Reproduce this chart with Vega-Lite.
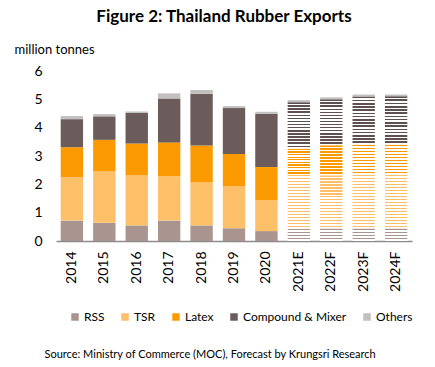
{
  "$schema": "https://vega.github.io/schema/vega-lite/v6.json",
  "width": 356,
  "height": 170,
  "autosize": "none",
  "padding": {"left": 56, "top": 71, "right": 23, "bottom": 126},
  "background": "white",
  "title": {"text": "Figure 2: Thailand Rubber Exports", "fontSize": 17, "font": "Lato", "fontWeight": "bold", "color": "#000", "anchor": "middle", "dx": -10, "offset": 17},
  "config": {"view": {"stroke": null}, "font": "Lato"},
  "data": {"values": [
    {"year":"2014","cat":"RSS","v":0.72,"type":"A"},{"year":"2014","cat":"TSR","v":1.53,"type":"A"},{"year":"2014","cat":"Latex","v":1.06,"type":"A"},{"year":"2014","cat":"Compound & Mixer","v":0.99,"type":"A"},{"year":"2014","cat":"Others","v":0.11,"type":"A"},
    {"year":"2015","cat":"RSS","v":0.64,"type":"A"},{"year":"2015","cat":"TSR","v":1.83,"type":"A"},{"year":"2015","cat":"Latex","v":1.10,"type":"A"},{"year":"2015","cat":"Compound & Mixer","v":0.83,"type":"A"},{"year":"2015","cat":"Others","v":0.08,"type":"A"},
    {"year":"2016","cat":"RSS","v":0.55,"type":"A"},{"year":"2016","cat":"TSR","v":1.77,"type":"A"},{"year":"2016","cat":"Latex","v":1.12,"type":"A"},{"year":"2016","cat":"Compound & Mixer","v":1.08,"type":"A"},{"year":"2016","cat":"Others","v":0.05,"type":"A"},
    {"year":"2017","cat":"RSS","v":0.72,"type":"A"},{"year":"2017","cat":"TSR","v":1.56,"type":"A"},{"year":"2017","cat":"Latex","v":1.20,"type":"A"},{"year":"2017","cat":"Compound & Mixer","v":1.55,"type":"A"},{"year":"2017","cat":"Others","v":0.18,"type":"A"},
    {"year":"2018","cat":"RSS","v":0.55,"type":"A"},{"year":"2018","cat":"TSR","v":1.53,"type":"A"},{"year":"2018","cat":"Latex","v":1.29,"type":"A"},{"year":"2018","cat":"Compound & Mixer","v":1.83,"type":"A"},{"year":"2018","cat":"Others","v":0.13,"type":"A"},
    {"year":"2019","cat":"RSS","v":0.45,"type":"A"},{"year":"2019","cat":"TSR","v":1.49,"type":"A"},{"year":"2019","cat":"Latex","v":1.13,"type":"A"},{"year":"2019","cat":"Compound & Mixer","v":1.62,"type":"A"},{"year":"2019","cat":"Others","v":0.07,"type":"A"},
    {"year":"2020","cat":"RSS","v":0.35,"type":"A"},{"year":"2020","cat":"TSR","v":1.09,"type":"A"},{"year":"2020","cat":"Latex","v":1.17,"type":"A"},{"year":"2020","cat":"Compound & Mixer","v":1.88,"type":"A"},{"year":"2020","cat":"Others","v":0.07,"type":"A"},
    {"year":"2021E","cat":"RSS","v":0.43,"type":"F"},{"year":"2021E","cat":"TSR","v":1.90,"type":"F"},{"year":"2021E","cat":"Latex","v":0.93,"type":"F"},{"year":"2021E","cat":"Compound & Mixer","v":1.64,"type":"F"},{"year":"2021E","cat":"Others","v":0.07,"type":"F"},
    {"year":"2022F","cat":"RSS","v":0.44,"type":"F"},{"year":"2022F","cat":"TSR","v":1.88,"type":"F"},{"year":"2022F","cat":"Latex","v":1.06,"type":"F"},{"year":"2022F","cat":"Compound & Mixer","v":1.62,"type":"F"},{"year":"2022F","cat":"Others","v":0.07,"type":"F"},
    {"year":"2023F","cat":"RSS","v":0.44,"type":"F"},{"year":"2023F","cat":"TSR","v":1.90,"type":"F"},{"year":"2023F","cat":"Latex","v":1.06,"type":"F"},{"year":"2023F","cat":"Compound & Mixer","v":1.70,"type":"F"},{"year":"2023F","cat":"Others","v":0.07,"type":"F"},
    {"year":"2024F","cat":"RSS","v":0.44,"type":"F"},{"year":"2024F","cat":"TSR","v":1.90,"type":"F"},{"year":"2024F","cat":"Latex","v":1.06,"type":"F"},{"year":"2024F","cat":"Compound & Mixer","v":1.71,"type":"F"},{"year":"2024F","cat":"Others","v":0.06,"type":"F"}
  ]},
  "transform": [
    {"calculate": "indexof(['RSS','TSR','Latex','Compound & Mixer','Others'], datum.cat)", "as": "stackIdx"}
  ],
  "mark": {"type": "bar"},
  "encoding": {
    "x": {"field": "year", "type": "nominal", "sort": null,
      "scale": {"paddingInner": 0.31, "paddingOuter": 0.145},
      "axis": {"title": "Source:  Ministry of Commerce (MOC),  Forecast by Krungsri Research", "titleFontSize": 11, "titleFontWeight": "normal", "titleColor": "#000", "titleAlign": "left", "titleX": -12, "titleY": 113, "titleBaseline": "middle",
        "labelAngle": -90, "labelFontSize": 14, "labelColor": "#000", "labelPadding": 10, "ticks": false, "domainColor": "#8c8c8c", "domainWidth": 1.5, "grid": false}},
    "y": {"field": "v", "type": "quantitative", "stack": "zero",
      "scale": {"domain": [0, 6], "nice": false},
      "axis": {"values": [0,1,2,3,4,5,6], "domain": false, "ticks": false, "grid": false, "labelFontSize": 14, "labelColor": "#000", "labelPadding": 14,
        "title": "million tonnes", "titleAngle": 0, "titleAlign": "left", "titleBaseline": "middle", "titleX": -42, "titleY": -22, "titleFontSize": 13, "titleFontWeight": "normal", "titleColor": "#000"}},
    "order": {"field": "stackIdx", "type": "quantitative", "sort": "ascending"},
    "color": {
      "condition": [
        {"test": "datum.type === 'F' && datum.cat === 'RSS'", "value": {"gradient": "linear", "x1": 0, "y1": 0, "x2": 0, "y2": 1, "stops": [
          {"offset":0,"color":"#a99490"},{"offset":0.125,"color":"#a99490"},{"offset":0.125,"color":"#fff"},{"offset":0.25,"color":"#fff"},
          {"offset":0.25,"color":"#a99490"},{"offset":0.375,"color":"#a99490"},{"offset":0.375,"color":"#fff"},{"offset":0.5,"color":"#fff"},
          {"offset":0.5,"color":"#a99490"},{"offset":0.625,"color":"#a99490"},{"offset":0.625,"color":"#fff"},{"offset":0.75,"color":"#fff"},
          {"offset":0.75,"color":"#a99490"},{"offset":0.875,"color":"#a99490"},{"offset":0.875,"color":"#fff"},{"offset":1,"color":"#fff"}]}},
        {"test": "datum.type === 'F' && datum.cat === 'TSR'", "value": {"gradient": "linear", "x1": 0, "y1": 0, "x2": 0, "y2": 1, "stops": [
          {"offset":0,"color":"#fdc068"},{"offset":0.0278,"color":"#fdc068"},{"offset":0.0278,"color":"#fff"},{"offset":0.0556,"color":"#fff"},
          {"offset":0.0556,"color":"#fdc068"},{"offset":0.0833,"color":"#fdc068"},{"offset":0.0833,"color":"#fff"},{"offset":0.1111,"color":"#fff"},
          {"offset":0.1111,"color":"#fdc068"},{"offset":0.1389,"color":"#fdc068"},{"offset":0.1389,"color":"#fff"},{"offset":0.1667,"color":"#fff"},
          {"offset":0.1667,"color":"#fdc068"},{"offset":0.1944,"color":"#fdc068"},{"offset":0.1944,"color":"#fff"},{"offset":0.2222,"color":"#fff"},
          {"offset":0.2222,"color":"#fdc068"},{"offset":0.25,"color":"#fdc068"},{"offset":0.25,"color":"#fff"},{"offset":0.2778,"color":"#fff"},
          {"offset":0.2778,"color":"#fdc068"},{"offset":0.3056,"color":"#fdc068"},{"offset":0.3056,"color":"#fff"},{"offset":0.3333,"color":"#fff"},
          {"offset":0.3333,"color":"#fdc068"},{"offset":0.3611,"color":"#fdc068"},{"offset":0.3611,"color":"#fff"},{"offset":0.3889,"color":"#fff"},
          {"offset":0.3889,"color":"#fdc068"},{"offset":0.4167,"color":"#fdc068"},{"offset":0.4167,"color":"#fff"},{"offset":0.4444,"color":"#fff"},
          {"offset":0.4444,"color":"#fdc068"},{"offset":0.4722,"color":"#fdc068"},{"offset":0.4722,"color":"#fff"},{"offset":0.5,"color":"#fff"},
          {"offset":0.5,"color":"#fdc068"},{"offset":0.5278,"color":"#fdc068"},{"offset":0.5278,"color":"#fff"},{"offset":0.5556,"color":"#fff"},
          {"offset":0.5556,"color":"#fdc068"},{"offset":0.5833,"color":"#fdc068"},{"offset":0.5833,"color":"#fff"},{"offset":0.6111,"color":"#fff"},
          {"offset":0.6111,"color":"#fdc068"},{"offset":0.6389,"color":"#fdc068"},{"offset":0.6389,"color":"#fff"},{"offset":0.6667,"color":"#fff"},
          {"offset":0.6667,"color":"#fdc068"},{"offset":0.6944,"color":"#fdc068"},{"offset":0.6944,"color":"#fff"},{"offset":0.7222,"color":"#fff"},
          {"offset":0.7222,"color":"#fdc068"},{"offset":0.75,"color":"#fdc068"},{"offset":0.75,"color":"#fff"},{"offset":0.7778,"color":"#fff"},
          {"offset":0.7778,"color":"#fdc068"},{"offset":0.8056,"color":"#fdc068"},{"offset":0.8056,"color":"#fff"},{"offset":0.8333,"color":"#fff"},
          {"offset":0.8333,"color":"#fdc068"},{"offset":0.8611,"color":"#fdc068"},{"offset":0.8611,"color":"#fff"},{"offset":0.8889,"color":"#fff"},
          {"offset":0.8889,"color":"#fdc068"},{"offset":0.9167,"color":"#fdc068"},{"offset":0.9167,"color":"#fff"},{"offset":0.9444,"color":"#fff"},
          {"offset":0.9444,"color":"#fdc068"},{"offset":0.9722,"color":"#fdc068"},{"offset":0.9722,"color":"#fff"},{"offset":1,"color":"#fff"}]}},
        {"test": "datum.type === 'F' && datum.cat === 'Latex'", "value": {"gradient": "linear", "x1": 0, "y1": 0, "x2": 0, "y2": 1, "stops": [
          {"offset":0,"color":"#fb9a00"},{"offset":0.05,"color":"#fb9a00"},{"offset":0.05,"color":"#fff"},{"offset":0.1,"color":"#fff"},
          {"offset":0.1,"color":"#fb9a00"},{"offset":0.15,"color":"#fb9a00"},{"offset":0.15,"color":"#fff"},{"offset":0.2,"color":"#fff"},
          {"offset":0.2,"color":"#fb9a00"},{"offset":0.25,"color":"#fb9a00"},{"offset":0.25,"color":"#fff"},{"offset":0.3,"color":"#fff"},
          {"offset":0.3,"color":"#fb9a00"},{"offset":0.35,"color":"#fb9a00"},{"offset":0.35,"color":"#fff"},{"offset":0.4,"color":"#fff"},
          {"offset":0.4,"color":"#fb9a00"},{"offset":0.45,"color":"#fb9a00"},{"offset":0.45,"color":"#fff"},{"offset":0.5,"color":"#fff"},
          {"offset":0.5,"color":"#fb9a00"},{"offset":0.55,"color":"#fb9a00"},{"offset":0.55,"color":"#fff"},{"offset":0.6,"color":"#fff"},
          {"offset":0.6,"color":"#fb9a00"},{"offset":0.65,"color":"#fb9a00"},{"offset":0.65,"color":"#fff"},{"offset":0.7,"color":"#fff"},
          {"offset":0.7,"color":"#fb9a00"},{"offset":0.75,"color":"#fb9a00"},{"offset":0.75,"color":"#fff"},{"offset":0.8,"color":"#fff"},
          {"offset":0.8,"color":"#fb9a00"},{"offset":0.85,"color":"#fb9a00"},{"offset":0.85,"color":"#fff"},{"offset":0.9,"color":"#fff"},
          {"offset":0.9,"color":"#fb9a00"},{"offset":0.95,"color":"#fb9a00"},{"offset":0.95,"color":"#fff"},{"offset":1,"color":"#fff"}]}},
        {"test": "datum.type === 'F' && datum.cat === 'Compound & Mixer'", "value": {"gradient": "linear", "x1": 0, "y1": 0, "x2": 0, "y2": 1, "stops": [
          {"offset":0,"color":"#5e5050"},{"offset":0.0333,"color":"#5e5050"},{"offset":0.0333,"color":"#fff"},{"offset":0.0667,"color":"#fff"},
          {"offset":0.0667,"color":"#5e5050"},{"offset":0.1,"color":"#5e5050"},{"offset":0.1,"color":"#fff"},{"offset":0.1333,"color":"#fff"},
          {"offset":0.1333,"color":"#5e5050"},{"offset":0.1667,"color":"#5e5050"},{"offset":0.1667,"color":"#fff"},{"offset":0.2,"color":"#fff"},
          {"offset":0.2,"color":"#5e5050"},{"offset":0.2333,"color":"#5e5050"},{"offset":0.2333,"color":"#fff"},{"offset":0.2667,"color":"#fff"},
          {"offset":0.2667,"color":"#5e5050"},{"offset":0.3,"color":"#5e5050"},{"offset":0.3,"color":"#fff"},{"offset":0.3333,"color":"#fff"},
          {"offset":0.3333,"color":"#5e5050"},{"offset":0.3667,"color":"#5e5050"},{"offset":0.3667,"color":"#fff"},{"offset":0.4,"color":"#fff"},
          {"offset":0.4,"color":"#5e5050"},{"offset":0.4333,"color":"#5e5050"},{"offset":0.4333,"color":"#fff"},{"offset":0.4667,"color":"#fff"},
          {"offset":0.4667,"color":"#5e5050"},{"offset":0.5,"color":"#5e5050"},{"offset":0.5,"color":"#fff"},{"offset":0.5333,"color":"#fff"},
          {"offset":0.5333,"color":"#5e5050"},{"offset":0.5667,"color":"#5e5050"},{"offset":0.5667,"color":"#fff"},{"offset":0.6,"color":"#fff"},
          {"offset":0.6,"color":"#5e5050"},{"offset":0.6333,"color":"#5e5050"},{"offset":0.6333,"color":"#fff"},{"offset":0.6667,"color":"#fff"},
          {"offset":0.6667,"color":"#5e5050"},{"offset":0.7,"color":"#5e5050"},{"offset":0.7,"color":"#fff"},{"offset":0.7333,"color":"#fff"},
          {"offset":0.7333,"color":"#5e5050"},{"offset":0.7667,"color":"#5e5050"},{"offset":0.7667,"color":"#fff"},{"offset":0.8,"color":"#fff"},
          {"offset":0.8,"color":"#5e5050"},{"offset":0.8333,"color":"#5e5050"},{"offset":0.8333,"color":"#fff"},{"offset":0.8667,"color":"#fff"},
          {"offset":0.8667,"color":"#5e5050"},{"offset":0.9,"color":"#5e5050"},{"offset":0.9,"color":"#fff"},{"offset":0.9333,"color":"#fff"},
          {"offset":0.9333,"color":"#5e5050"},{"offset":0.9667,"color":"#5e5050"},{"offset":0.9667,"color":"#fff"},{"offset":1,"color":"#fff"}]}}
      ],
      "field": "cat", "type": "nominal",
      "sort": ["RSS", "TSR", "Latex", "Compound & Mixer", "Others"],
      "scale": {"domain": ["RSS", "TSR", "Latex", "Compound & Mixer", "Others"], "range": ["#a99490", "#fdc068", "#fb9a00", "#6b5b5b", "#c2bfbf"]},
      "legend": {"title": null, "orient": "none", "legendX": 13, "legendY": 240, "direction": "horizontal", "symbolType": "square", "symbolSize": 56, "symbolStrokeWidth": 0, "labelFontSize": 12, "labelColor": "#000", "labelOffset": 3, "columnPadding": 14}
    }
  }
}
